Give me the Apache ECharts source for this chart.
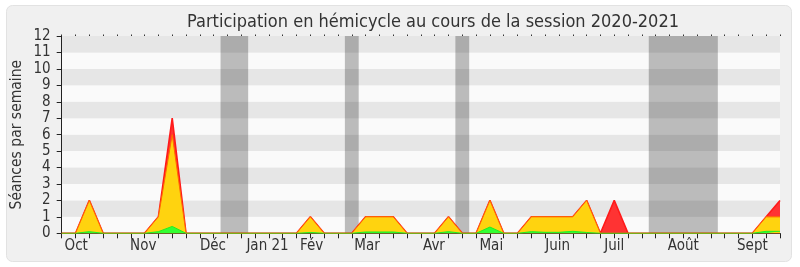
<!DOCTYPE html>
<html>
<head>
<meta charset="utf-8">
<script src="https://cdn.jsdelivr.net/npm/echarts@6/dist/echarts.min.js"></script>
<style>
  html, body { margin: 0; padding: 0; background: #ffffff; }
  #chart { width: 800px; height: 267px; }
</style>
</head>
<body>
<div id="chart"></div>
<script>
// Weeks of the session, 0 = start of the session, 52 = end
const weeks = [0,1,2,3,4,5,6,7,8,9,10,11,12,13,14,15,16,17,18,19,20,21,22,23,24,25,26,27,28,29,30,31,32,33,34,35,36,37,38,39,40,41,42,43,44,45,46,47,48,49,50,51,52];

// Séances attended per week (red)
const presences = [0,0,2,0,0,0,0,1,7,0,0,0,0,0,0,0,0,0,1,0,0,0,1,1,1,0,0,0,1,0,0,2,0,0,1,1,1,1,2,0,2,0,0,0,0,0,0,0,0,0,0,1,2];
// Séances with participation (yellow)
const participations = [0,0,2,0,0,0,0,1,6,0,0,0,0,0,0,0,0,0,1,0,0,0,1,1,1,0,0,0,1,0,0,2,0,0,1,1,1,1,2,0,0,0,0,0,0,0,0,0,0,0,0,1,1];
// Interventions (green)
const interventions = [0,0,0.1,0,0,0,0,0.1,0.42,0,0,0,0,0,0,0,0,0,0.05,0,0,0,0.08,0.08,0.08,0,0,0,0.1,0,0,0.38,0,0,0.1,0.06,0.06,0.12,0.05,0,0,0,0,0,0,0,0,0,0,0,0,0.12,0.12];

// Parliamentary recess periods (week bounds)
const vacances = [[11.5, 13.5], [20.5, 21.5], [28.5, 29.5], [42.5, 47.5]];

// Month labels and their position on the week scale
const moisLabels = ['Oct', 'Nov', 'Déc', 'Jan 21', 'Fév', 'Mar', 'Avr', 'Mai', 'Juin', 'Juil', 'Août', 'Sept'];
const moisPos = [1.05, 5.9, 10.95, 14.9, 18.1, 22.1, 26.95, 31.1, 35.9, 40, 45, 50];

const yTicks = [0,1,2,3,4,5,6,7,8,9,10,11,12];

const FONT = '"DejaVu Sans Condensed", "DejaVu Sans", sans-serif';

const pairs = (arr) => weeks.map((w, i) => [w, arr[i]]);
const labelByPos = {};
moisPos.forEach((p, i) => { labelByPos[p] = moisLabels[i]; });

const chart = echarts.init(document.getElementById('chart'), null, { renderer: 'canvas' });

chart.setOption({
  animation: false,
  backgroundColor: '#ffffff',
  graphic: [{
    type: 'rect',
    z: -10,
    shape: { x: 6.5, y: 5.5, width: 785, height: 256, r: 6 },
    style: { fill: '#f0f0f0', stroke: '#e2e2e2', lineWidth: 1 }
  }],
  title: {
    text: 'Participation en hémicycle au cours de la session 2020-2021',
    left: 428,
    top: 8,
    textAlign: 'center',
    textStyle: { fontFamily: FONT, fontSize: 18, fontWeight: 'normal', color: '#333333' }
  },
  grid: { left: 61.7, right: 20, top: 36, bottom: 33.7, containLabel: false, outerBoundsMode: 'none' },
  xAxis: [{
    type: 'value',
    min: 0,
    max: 52,
    interval: 1,
    position: 'bottom',
    axisLine: { show: true, lineStyle: { color: '#222222', width: 1 } },
    axisTick: { show: true, length: 5, lineStyle: { color: '#222222' } },
    axisLabel: {
      show: true,
      customValues: moisPos,
      margin: 5,
      fontFamily: FONT,
      fontSize: 15,
      color: '#333333',
      formatter: (v) => labelByPos[v] || ''
    },
    splitLine: { show: false }
  }, {
    type: 'value',
    min: 0,
    max: 52,
    interval: 1,
    position: 'top',
    axisLine: { show: false },
    axisTick: { show: true, length: 1.5, lineStyle: { color: '#333333' } },
    axisLabel: { show: false },
    splitLine: { show: false }
  }],
  yAxis: {
    type: 'value',
    min: 0,
    max: 12,
    interval: 1,
    name: 'Séances par semaine',
    nameLocation: 'middle',
    nameGap: 37,
    nameMoveOverlap: false,
    nameTextStyle: { fontFamily: FONT, fontSize: 15.5, color: '#333333' },
    axisLine: { show: true, lineStyle: { color: '#222222' } },
    axisTick: { show: true, length: 5, lineStyle: { color: '#222222' } },
    axisLabel: {
      margin: 11,
      fontFamily: FONT,
      fontSize: 15,
      color: '#333333',
      formatter: (v) => yTicks.includes(v) ? String(v) : ''
    },
    splitLine: { show: false },
    splitArea: { show: true, areaStyle: { color: ['#fafafa', '#e6e6e6'] } }
  },
  series: [{
    name: 'vacances',
    type: 'line',
    data: [],
    z: 1,
    markArea: {
      silent: true,
      itemStyle: { color: 'rgba(0,0,0,0.25)' },
      data: vacances.map(([a, b]) => [{ xAxis: a }, { xAxis: b }])
    }
  }, {
    name: 'Présences',
    type: 'line',
    data: pairs(presences),
    z: 2,
    symbol: 'none',
    lineStyle: { color: '#ff1a1a', width: 1.6 },
    areaStyle: { color: '#ff3333', opacity: 1 }
  }, {
    name: 'Participations',
    type: 'line',
    data: pairs(participations),
    z: 3,
    symbol: 'none',
    lineStyle: { color: '#ff6a00', width: 1 },
    areaStyle: { color: '#ffd30f', opacity: 1 }
  }, {
    name: 'Interventions',
    type: 'line',
    data: pairs(interventions),
    z: 4,
    symbol: 'none',
    lineStyle: { color: '#22ee22', width: 1 },
    areaStyle: { color: '#33ff33', opacity: 1 }
  }]
});
</script>
</body>
</html>
